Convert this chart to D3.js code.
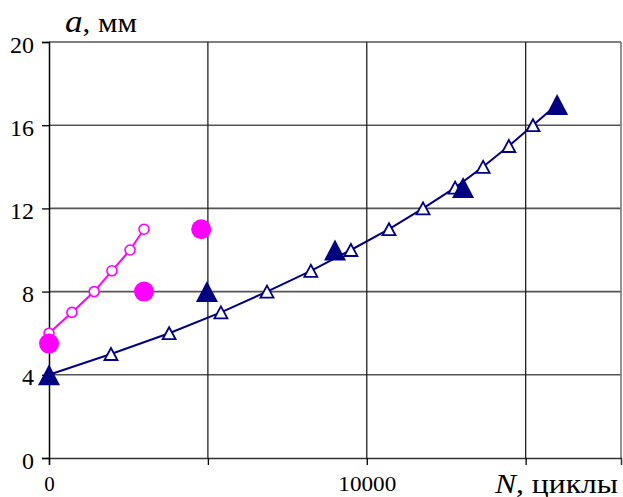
<!DOCTYPE html>
<html>
<head>
<meta charset="utf-8">
<script src="https://cdn.jsdelivr.net/npm/d3@7"></script>
<style>
  html, body { margin: 0; padding: 0; background: #fff; }
</style>
</head>
<body>
<div id="chart"></div>
<script>
// crack length a (mm) vs number of cycles N
const calcN = [0, 1950, 3780, 5410, 6860, 8240, 9500, 10700, 11770, 12780, 13660, 14470, 15230, 15990];
const calcA = [4, 5, 6, 7, 8, 9, 10, 11, 12, 13, 14, 15, 16, 17];
const testN = [0, 4970, 9000, 13030, 15990];
const testA = [4, 8, 10, 13, 17];

const calc2N = [0, 720, 1420, 1980, 2550, 2990];
const calc2A = [6, 7, 8, 9, 10, 11];
const test2N = [0, 2990, 4790];
const test2A = [5.5, 8, 11];

const xTicks = [0, 5000, 10000, 15000];
const xTickLabels = [0, 10000];
const yTicks = [0, 4, 8, 12, 16, 20];

const width = 623, height = 497;
const plotL = 49, plotR = 621, plotT = 42, plotB = 458;
const serif = '"Liberation Serif"';

const svg = d3.select('#chart').append('svg')
  .attr('width', width)
  .attr('height', height);

const x = d3.scaleLinear().domain([0, 18000]).range([plotL, plotR]);
const y = d3.scaleLinear().domain([0, 20]).range([plotB, plotT]);

// triangle centred on its bounding box
function tri(cx, cy, w, h) {
  return 'M' + cx + ',' + (cy - h / 2) + 'L' + (cx + w / 2) + ',' + (cy + h / 2) + 'L' + (cx - w / 2) + ',' + (cy + h / 2) + 'Z';
}

// grid
svg.append('g').selectAll('line')
  .data(yTicks.filter(d => d > 0))
  .join('line')
  .attr('x1', plotL).attr('x2', plotR)
  .attr('y1', d => y(d)).attr('y2', d => y(d))
  .attr('stroke', '#555').attr('stroke-width', 1.6);

svg.append('g').selectAll('line')
  .data(xTicks.filter(d => d > 0))
  .join('line')
  .attr('x1', d => x(d)).attr('x2', d => x(d))
  .attr('y1', plotT).attr('y2', plotB)
  .attr('stroke', '#222').attr('stroke-width', 1.3);

svg.append('line')
  .attr('x1', plotR).attr('x2', plotR).attr('y1', plotT).attr('y2', plotB)
  .attr('stroke', '#777').attr('stroke-width', 1.6);

// axes
const yAxis = svg.append('g')
  .attr('transform', 'translate(' + plotL + ',0)')
  .call(d3.axisLeft(y).tickValues(yTicks).tickSize(7).tickPadding(8));
yAxis.attr('font-family', null);
yAxis.select('.domain').attr('stroke', '#000').attr('stroke-width', 1.5);
yAxis.selectAll('.tick line').attr('stroke', '#000').attr('stroke-width', 1.3);
yAxis.selectAll('.tick text')
  .style('font-family', serif)
  .attr('font-size', 24)
  .attr('dy', '0.42em');

const xAxis = svg.append('g')
  .attr('transform', 'translate(0,' + plotB + ')')
  .call(d3.axisBottom(x).tickValues(xTicks).tickSize(7)
    .tickFormat(d => xTickLabels.includes(d) ? d : ''));
xAxis.attr('font-family', null);
xAxis.select('.domain').attr('stroke', '#333').attr('stroke-width', 1.5);
xAxis.selectAll('.tick line').attr('stroke', '#000').attr('stroke-width', 1.3);
xAxis.selectAll('.tick text')
  .style('font-family', serif)
  .attr('font-size', 21)
  .attr('y', 33)
  .attr('dy', 0);
xAxis.selectAll('.tick text').filter(d => d === 10000)
  .attr('textLength', 58).attr('lengthAdjust', 'spacingAndGlyphs');

// axis titles
const yTitle = svg.append('text').attr('x', 65).attr('y', 32)
  .style('font-family', serif)
  .attr('textLength', 72).attr('lengthAdjust', 'spacingAndGlyphs');
yTitle.append('tspan').attr('font-style', 'italic').attr('font-size', 32).text('a');
yTitle.append('tspan').attr('font-size', 28).text(', мм');

const xTitle = svg.append('text').attr('x', 495).attr('y', 493)
  .style('font-family', serif)
  .attr('textLength', 123).attr('lengthAdjust', 'spacingAndGlyphs');
xTitle.append('tspan').attr('font-style', 'italic').attr('font-size', 28).text('N');
xTitle.append('tspan').attr('font-size', 28).text(', циклы');

// navy series
const navy = '#000080';
const line = d3.line().x(d => x(d[0])).y(d => y(d[1]));
const calc = calcN.map((n, i) => [n, calcA[i]]);
svg.append('path').attr('d', line(calc))
  .attr('fill', 'none').attr('stroke', navy).attr('stroke-width', 2);
svg.append('g').selectAll('path')
  .data(calc.slice(1, -1))
  .join('path')
  .attr('d', d => tri(x(d[0]), y(d[1]), 13, 12))
  .attr('fill', '#fff').attr('stroke', navy).attr('stroke-width', 1.8);
svg.append('g').selectAll('path')
  .data(testN.map((n, i) => [n, testA[i]]))
  .join('path')
  .attr('d', d => tri(x(d[0]), y(d[1]), 22, 21))
  .attr('fill', navy);

// magenta series
const mag = '#ff00ff';
const calc2 = calc2N.map((n, i) => [n, calc2A[i]]);
svg.append('path').attr('d', line(calc2))
  .attr('fill', 'none').attr('stroke', mag).attr('stroke-width', 2);
svg.append('g').selectAll('circle')
  .data(calc2)
  .join('circle')
  .attr('cx', d => x(d[0])).attr('cy', d => y(d[1])).attr('r', 5)
  .attr('fill', '#fff').attr('stroke', mag).attr('stroke-width', 1.6);
svg.append('g').selectAll('circle')
  .data(test2N.map((n, i) => [n, test2A[i]]))
  .join('circle')
  .attr('cx', d => x(d[0])).attr('cy', d => y(d[1])).attr('r', 10)
  .attr('fill', mag);
</script>
</body>
</html>
